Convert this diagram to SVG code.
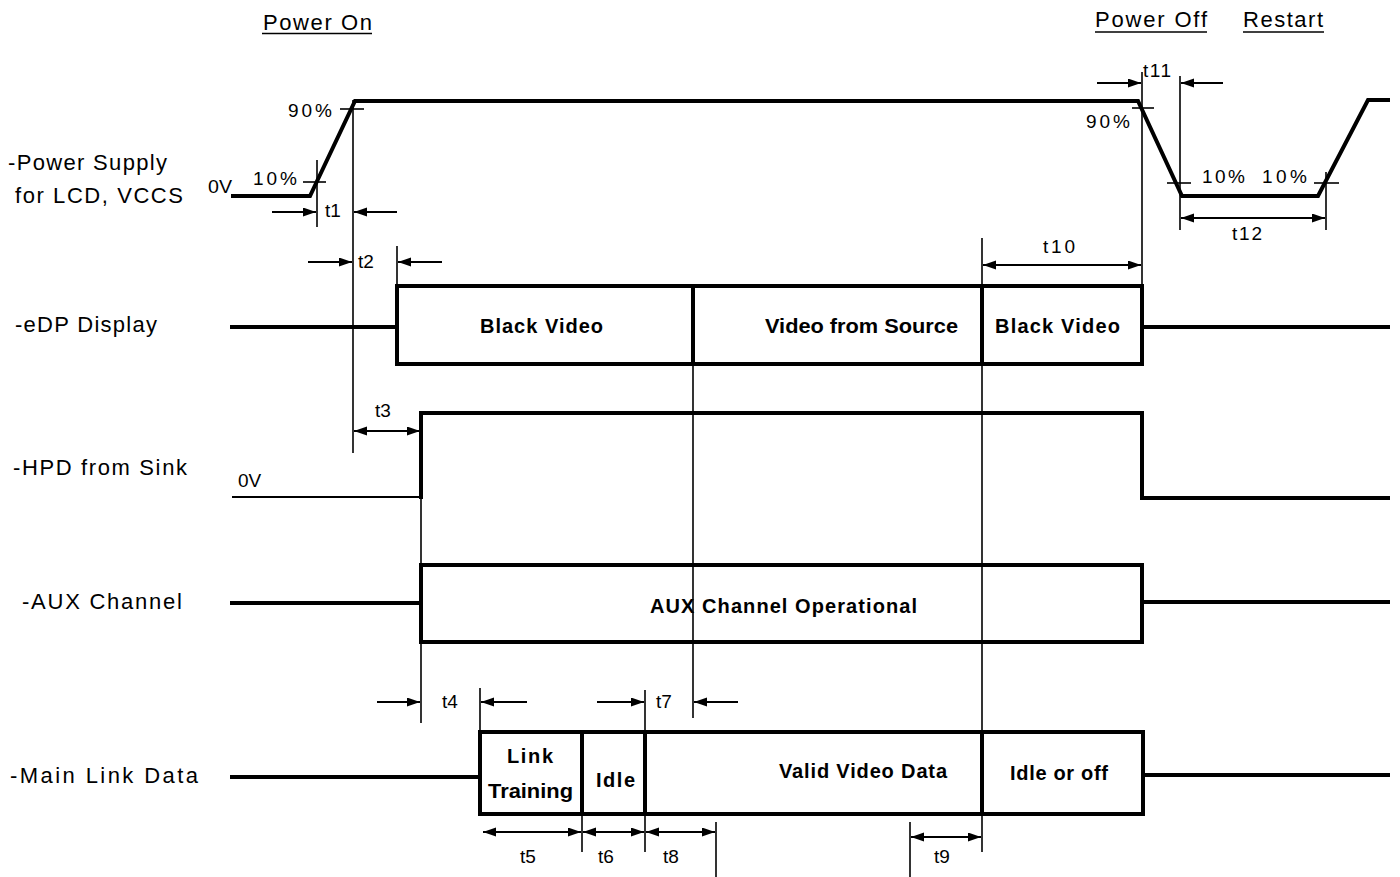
<svg xmlns="http://www.w3.org/2000/svg" width="1400" height="877" viewBox="0 0 1400 877">
<defs>
<style>
.thick{fill:none;stroke:#000;stroke-width:4;stroke-linejoin:miter;stroke-linecap:square}
.thin{fill:none;stroke:#000;stroke-width:1.6}
.arr{fill:none;stroke:#000;stroke-width:2}
.lbl{font-family:"Liberation Sans",Arial,sans-serif;font-size:22px;fill:#000}
.sm{font-family:"Liberation Sans",Arial,sans-serif;font-size:19px;fill:#000}
.bd{font-family:"Liberation Sans",Arial,sans-serif;font-size:20px;font-weight:bold;fill:#000}
</style>
<marker id="ah" markerUnits="userSpaceOnUse" markerWidth="14" markerHeight="10" refX="13" refY="4.5" orient="auto-start-reverse">
<path d="M0,0 L13,4.5 L0,9 Z" fill="#000"/>
</marker>
</defs>
<rect width="1400" height="877" fill="#fff"/>

<g id="headers">
<text class="lbl" x="263" y="30" textLength="109" lengthAdjust="spacing">Power On</text>
<line class="thin" x1="262" y1="33.5" x2="372" y2="33.5"/>
<text class="lbl" x="1095" y="27" textLength="112" lengthAdjust="spacing">Power Off</text>
<line class="thin" x1="1095" y1="32" x2="1207" y2="32"/>
<text class="lbl" x="1243" y="27" textLength="80" lengthAdjust="spacing">Restart</text>
<line class="thin" x1="1243" y1="32" x2="1324" y2="32"/>
</g>

<g id="power-supply">
<text class="lbl" x="8" y="170" textLength="159" lengthAdjust="spacing">-Power Supply</text>
<text class="lbl" x="15" y="203" textLength="168" lengthAdjust="spacing">for LCD, VCCS</text>
<polyline class="thick" points="233,196 310,196 355,101 1138,101 1182,196 1318,196 1368,100 1388,100"/>
<line class="thin" x1="303" y1="182" x2="326" y2="182"/>
<line class="thin" x1="340" y1="109" x2="364" y2="109"/>
<line class="thin" x1="1132" y1="108" x2="1154" y2="108"/>
<line class="thin" x1="1167" y1="183" x2="1191" y2="183"/>
<line class="thin" x1="1314" y1="183" x2="1339" y2="183"/>
<text class="sm" x="208" y="193" textLength="24" lengthAdjust="spacingAndGlyphs">0V</text>
<text class="sm" x="253" y="185" textLength="44" lengthAdjust="spacing">10%</text>
<text class="sm" x="288" y="117" textLength="44" lengthAdjust="spacing">90%</text>
<text class="sm" x="1086" y="128" textLength="44" lengthAdjust="spacing">90%</text>
<text class="sm" x="1202" y="183" textLength="43" lengthAdjust="spacing">10%</text>
<text class="sm" x="1262" y="183" textLength="45" lengthAdjust="spacing">10%</text>
</g>

<g id="edp-display">
<text class="lbl" x="15" y="332" textLength="142" lengthAdjust="spacing">-eDP Display</text>
<line class="thick" x1="232" y1="327" x2="397" y2="327"/>
<rect class="thick" x="397" y="286" width="745" height="78"/>
<line class="thick" x1="693" y1="286" x2="693" y2="364"/>
<line class="thick" x1="982" y1="286" x2="982" y2="364"/>
<line class="thick" x1="1142" y1="327" x2="1388" y2="327"/>
<text class="bd" x="480" y="333" textLength="123" lengthAdjust="spacing">Black Video</text>
<text class="bd" x="765" y="333" textLength="193" lengthAdjust="spacingAndGlyphs">Video from Source</text>
<text class="bd" x="995" y="333" textLength="125" lengthAdjust="spacing">Black Video</text>
</g>

<g id="hpd">
<text class="lbl" x="13" y="475" textLength="174" lengthAdjust="spacing">-HPD from Sink</text>
<text class="sm" x="238" y="487">0V</text>
<line x1="232" y1="497" x2="421" y2="497" stroke="#000" stroke-width="2"/>
<polyline class="thick" points="421,497 421,413 1142,413 1142,498 1388,498"/>
</g>

<g id="aux-channel">
<text class="lbl" x="22" y="609" textLength="160" lengthAdjust="spacing">-AUX Channel</text>
<line class="thick" x1="232" y1="603" x2="421" y2="603"/>
<rect class="thick" x="421" y="565" width="721" height="77"/>
<line class="thick" x1="1142" y1="602" x2="1388" y2="602"/>
<text class="bd" x="650" y="613" textLength="267" lengthAdjust="spacing">AUX Channel Operational</text>
</g>

<g id="main-link">
<text class="lbl" x="10" y="783" textLength="188" lengthAdjust="spacing">-Main Link Data</text>
<line class="thick" x1="232" y1="777" x2="480" y2="777"/>
<rect class="thick" x="480" y="732" width="663" height="82"/>
<line class="thick" x1="582" y1="732" x2="582" y2="814"/>
<line class="thick" x1="645" y1="732" x2="645" y2="814"/>
<line class="thick" x1="982" y1="732" x2="982" y2="814"/>
<line class="thick" x1="1143" y1="775" x2="1388" y2="775"/>
<text class="bd" x="507" y="763" textLength="46" lengthAdjust="spacing">Link</text>
<text class="bd" x="488" y="798" textLength="85" lengthAdjust="spacingAndGlyphs">Training</text>
<text class="bd" x="596" y="787" textLength="39" lengthAdjust="spacing">Idle</text>
<text class="bd" x="779" y="778" textLength="168" lengthAdjust="spacing">Valid Video Data</text>
<text class="bd" x="1010" y="780" textLength="98" lengthAdjust="spacing">Idle or off</text>
</g>

<g id="connectors">
<line class="thin" x1="317" y1="160" x2="317" y2="227"/>
<line class="thin" x1="353" y1="100" x2="353" y2="453"/>
<line class="thin" x1="397" y1="246" x2="397" y2="286"/>
<line class="thin" x1="421" y1="497" x2="421" y2="723"/>
<line class="thin" x1="480" y1="688" x2="480" y2="732"/>
<line class="thin" x1="645" y1="690" x2="645" y2="852"/>
<line class="thin" x1="693" y1="364" x2="693" y2="718"/>
<line class="thin" x1="582" y1="814" x2="582" y2="852"/>
<line class="thin" x1="716" y1="822" x2="716" y2="877"/>
<line class="thin" x1="910" y1="822" x2="910" y2="877"/>
<line class="thin" x1="982" y1="238" x2="982" y2="852"/>
<line class="thin" x1="1142" y1="72" x2="1142" y2="286"/>
<line class="thin" x1="1180" y1="76" x2="1180" y2="230"/>
<line class="thin" x1="1326" y1="172" x2="1326" y2="230"/>

<line class="arr" x1="272" y1="212" x2="316" y2="212" marker-end="url(#ah)"/>
<line class="arr" x1="397" y1="212" x2="354" y2="212" marker-end="url(#ah)"/>
<line class="arr" x1="308" y1="262" x2="352" y2="262" marker-end="url(#ah)"/>
<line class="arr" x1="442" y1="262" x2="398" y2="262" marker-end="url(#ah)"/>
<line class="arr" x1="354" y1="431" x2="420" y2="431" marker-start="url(#ah)" marker-end="url(#ah)"/>
<line class="arr" x1="377" y1="702" x2="420" y2="702" marker-end="url(#ah)"/>
<line class="arr" x1="527" y1="702" x2="481" y2="702" marker-end="url(#ah)"/>
<line class="arr" x1="597" y1="702" x2="644" y2="702" marker-end="url(#ah)"/>
<line class="arr" x1="738" y1="702" x2="694" y2="702" marker-end="url(#ah)"/>
<line class="arr" x1="483" y1="832" x2="581" y2="832" marker-start="url(#ah)" marker-end="url(#ah)"/>
<line class="arr" x1="583" y1="832" x2="644" y2="832" marker-start="url(#ah)" marker-end="url(#ah)"/>
<line class="arr" x1="646" y1="832" x2="715" y2="832" marker-start="url(#ah)" marker-end="url(#ah)"/>
<line class="arr" x1="911" y1="837" x2="981" y2="837" marker-start="url(#ah)" marker-end="url(#ah)"/>
<line class="arr" x1="983" y1="265" x2="1141" y2="265" marker-start="url(#ah)" marker-end="url(#ah)"/>
<line class="arr" x1="1097" y1="83" x2="1141" y2="83" marker-end="url(#ah)"/>
<line class="arr" x1="1223" y1="83" x2="1181" y2="83" marker-end="url(#ah)"/>
<line class="arr" x1="1181" y1="218" x2="1325" y2="218" marker-start="url(#ah)" marker-end="url(#ah)"/>

<text class="sm" x="325" y="217">t1</text>
<text class="sm" x="358" y="268">t2</text>
<text class="sm" x="375" y="417">t3</text>
<text class="sm" x="442" y="708">t4</text>
<text class="sm" x="656" y="708">t7</text>
<text class="sm" x="520" y="863">t5</text>
<text class="sm" x="598" y="863">t6</text>
<text class="sm" x="663" y="863">t8</text>
<text class="sm" x="934" y="863">t9</text>
<text class="sm" x="1043" y="253" textLength="32" lengthAdjust="spacing">t10</text>
<text class="sm" x="1143" y="77" textLength="28" lengthAdjust="spacing">t11</text>
<text class="sm" x="1232" y="240" textLength="30" lengthAdjust="spacing">t12</text>
</g>
</svg>
